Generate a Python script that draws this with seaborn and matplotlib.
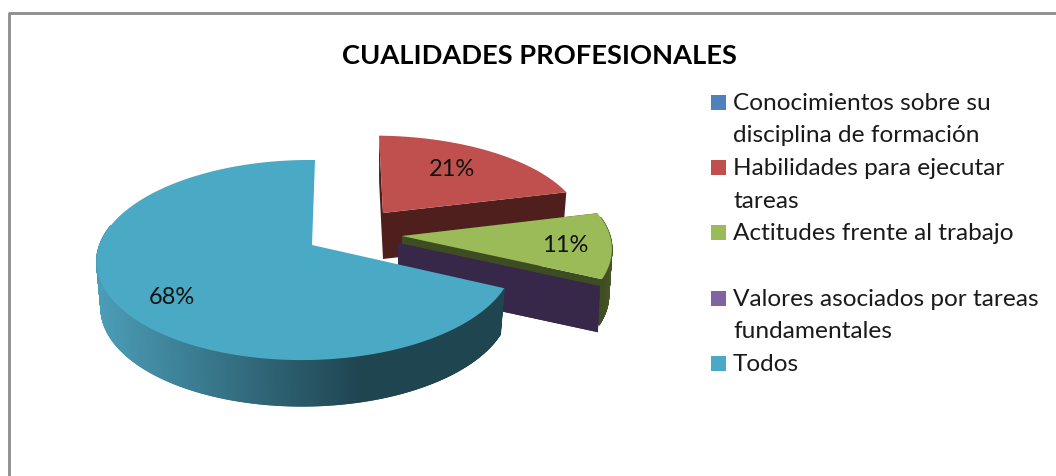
import numpy as np
import matplotlib
matplotlib.use("Agg")
import matplotlib.pyplot as plt
import seaborn as sns
from matplotlib.collections import PolyCollection
from matplotlib.patches import Rectangle

title = "CUALIDADES PROFESIONALES"
categories = ["Conocimientos sobre su\ndisciplina de formación",
              "Habilidades para ejecutar\ntareas",
              "Actitudes frente al trabajo\n ",
              "Valores asociados por tareas\nfundamentales",
              "Todos"]
values = [0, 21, 11, 0, 68]

top_colors = ["#4f81bd", "#c0504d", "#9bbb59", "#8064a2", "#4aa9c4"]
wall_light = ["#2a4566", "#6a2a28", "#5a7030", "#37284a", "#4b9cb6"]
wall_dark = ["#213650", "#4f1f1e", "#3f4d22", "#37284a", "#1f4551"]
face_colors = ["#213650", "#4f1f1e", "#3e4c22", "#37284a", "#1f4551"]

# exploded slices: screen shift, scale and lean of each one, pixels
shift = [(0, 0), (71, -32), (90, -9), (86, -2), (0, 0)]
scale_x = [1, 0.985, 1.04, 1.05, 1]
scale_y = [1, 0.91, 1, 1, 1]
lean = [3, -4, 3, 3, 3]
shrink = [0.98, 0.98, 0.985, 0.99, 0.98]

CX, CY = 312, 245
RX, RY = 206, 97.75
PERSP_V, PERSP_U = 0.15, 0.03
DEPTH = 46


def project(theta, i):
    u = np.sin(theta)
    v = np.cos(theta)
    s = 1 / (1 + PERSP_V * v + PERSP_U * u)
    return RX * u * s * scale_x[i] + lean[i] * v, -RY * v * s * scale_y[i]


def draw_slice(ax, a0, a1, i, z):
    dx, dy = shift[i]
    ox, oy = CX + dx, CY + dy
    k = shrink[i]
    n = max(int(np.degrees(a1 - a0)) * 4, 2)
    th = np.linspace(a0, a1, n)
    x, y = project(th, i)

    # radial faces, only the exploded slices show them
    if dx != 0:
        for a in (a0, a1):
            ex, ey = project(a, i)
            ax.fill([ox, ox + ex, ox + ex * k, ox],
                    [oy, oy + ey, oy + ey + DEPTH, oy + DEPTH],
                    color=face_colors[i], lw=0, zorder=z)

    if a1 > a0:
        # outer wall, shaded across the screen
        polys = []
        for j in range(n - 1):
            polys.append([(ox + x[j], oy + y[j]), (ox + x[j + 1], oy + y[j + 1]),
                          (ox + x[j + 1] * k, oy + y[j + 1] + DEPTH),
                          (ox + x[j] * k, oy + y[j] + DEPTH)])
        ramp = sns.blend_palette([wall_light[i], wall_dark[i]], n_colors=100)
        pos = np.clip((x[:-1] + 215) / 265, 0, 0.99) if i == 4 else np.linspace(0, 0.99, n - 1)
        cols = [ramp[int(p * 100)] for p in pos]
        front = np.cos((th[:-1] + th[1:]) / 2) < 0.2
        polys = [p for p, f in zip(polys, front) if f]
        cols = [c for c, f in zip(cols, front) if f]
        ax.add_collection(PolyCollection(polys, facecolors=cols, edgecolors=cols,
                                         linewidths=0.8, zorder=z + 0.1))
        # top
        ax.fill(np.r_[ox, ox + x], np.r_[oy, oy + y], color=top_colors[i], lw=0, zorder=z + 0.2)


sns.set_theme(style="white")
plt.rcParams["font.family"] = ["Lato", "DejaVu Sans"]

fig = plt.figure(figsize=(10.56, 4.76), dpi=100)
ax = fig.add_axes([0, 0, 1, 1])
ax.set_xlim(0, 1056)
ax.set_ylim(476, 0)
ax.axis("off")

# chart frame, cut off by the right and bottom of the image
ax.plot([8.5, 8.5, 1056], [476, 12.5, 12.5], color="#8c8c8c", lw=2)

angles = np.radians(np.cumsum([0] + values) * 3.6)
# back to front
for z, i in enumerate([0, 1, 2, 3, 4]):
    draw_slice(ax, angles[i], angles[i + 1], i, z * 2 + 1)

ax.text(539, 56, title, ha="center", va="center", fontsize=19.6, fontweight="bold", color="black")

label_pos = {1: (452, 169), 2: (565, 245), 4: (172, 297)}
for i, (x, y) in label_pos.items():
    ax.text(x, y, f"{values[i]}%", ha="center", va="center", fontsize=17, color="#111111", zorder=20)

row = 103
for i, name in enumerate(categories):
    ax.add_patch(Rectangle((711, row - 8.5), 15, 15, color=top_colors[i], lw=0))
    for line in name.split("\n"):
        ax.text(733, row, line, ha="left", va="center", fontsize=17.6, color="#1a1a1a")
        row += 32.7

fig.savefig("out.png", dpi=100)
